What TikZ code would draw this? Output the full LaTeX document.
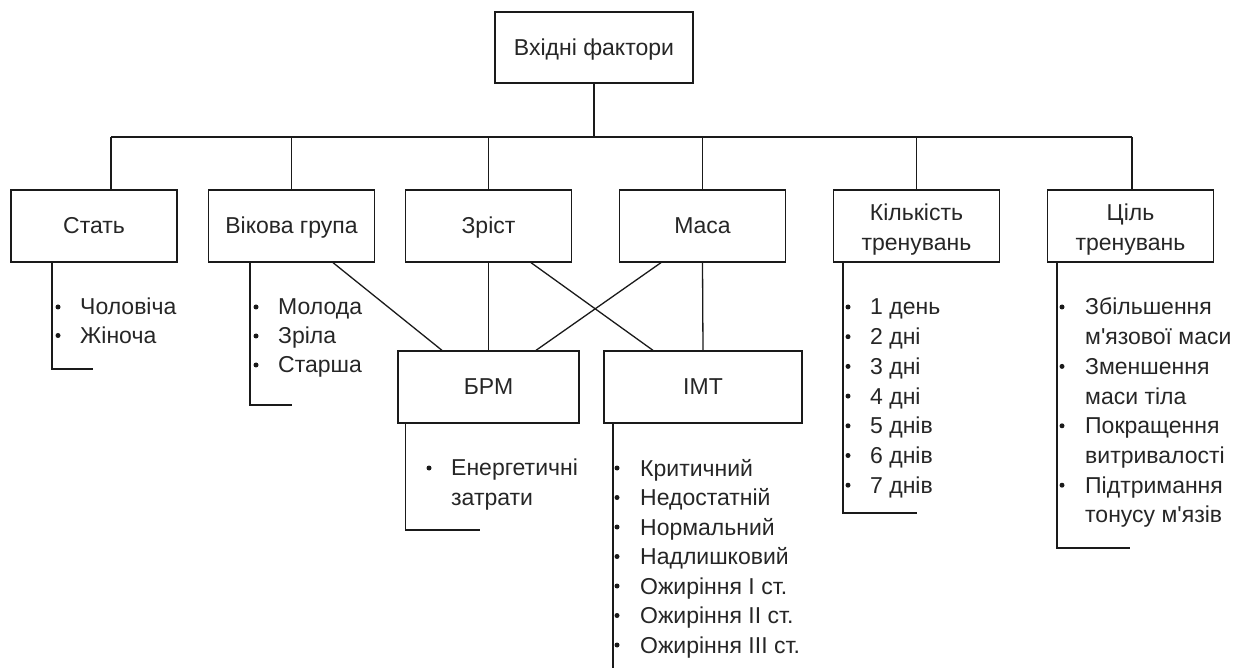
\documentclass[tikz,border=0pt]{standalone}
\usepackage{fontspec}
\setmainfont{Liberation Sans}[Ligatures=TeXOff]
\definecolor{ink}{HTML}{262626}
\definecolor{wire}{HTML}{1A1A1A}
\begin{document}
\begin{tikzpicture}[x=1pt,y=-1pt,
  box/.style={draw=wire, line width=1.3pt, fill=white, minimum width=166pt,
    minimum height=72pt, inner sep=0pt, align=center, text=ink,
    font=\fontsize{23}{30}\selectfont},
  one/.style={text height=16pt, text depth=0pt},
  boxtext/.style={inner sep=0pt, align=center, text=ink,
    font=\fontsize{23}{30}\selectfont},
  link/.style={draw=wire, line width=1.3pt},
  item/.style={anchor=base west, inner sep=0pt, align=left, text=ink,
    font=\fontsize{23}{29.7}\selectfont},
  bul/.style={fill=wire}]
\useasboundingbox (0,0) rectangle (1235,668);

% top node and first level
\node[box, one, minimum width=198pt, minimum height=71pt] (root) at (594,47.5) {Вхідні фактори};
\node[box, one] (stat) at (94,226) {Стать};
\node[box, one] (vik) at (291.5,226) {Вікова група};
\node[box, one] (zrist) at (488.5,226) {Зріст};
\node[box, one] (masa) at (702.5,226) {Маса};
\node[box] (kil) at (916.5,226) {};
\node[boxtext] (kilT) at ([yshift=-4pt]kil.center) {Кількість\\тренувань};
\node[box] (cil) at (1130.5,226) {};
\node[boxtext] (cilT) at ([yshift=-4pt]cil.center) {Ціль\\тренувань};

% derived indicators
\node[box, one, minimum width=181pt] (brm) at (488.5,387) {БРМ};
\node[box, one, minimum width=198pt] (imt) at (703,387) {ІМТ};

% bus
\coordinate (busL) at (111,137);
\coordinate (busR) at (1132,137);
\draw[link] (root.south) -- (root.south |- busL);
\draw[link] (busL) -- (busR);
\draw[link] (busL) -- (busL |- stat.north);
\draw[link] (vik.north) -- (vik.north |- busL);
\draw[link] (zrist.north) -- (zrist.north |- busL);
\draw[link] (masa.north) -- (masa.north |- busL);
\draw[link] (kil.north) -- (kil.north |- busL);
\draw[link] (busR) -- (busR |- cil.north);

% inputs of BRM and IMT
\draw[link] ([xshift=41.5pt]vik.south) -- ([xshift=-46.5pt]brm.north);
\draw[link] (zrist.south) -- (brm.north);
\draw[link] ([xshift=42.5pt]zrist.south) -- ([xshift=-50pt]imt.north);
\draw[link] ([xshift=-41.5pt]masa.south) -- ([xshift=47.5pt]brm.north);
\draw[link] (masa.south) -- (imt.north);

% list brackets
\coordinate (statEnd) at (93,369);
\coordinate (vikEnd) at (292,405);
\coordinate (brmEnd) at (480,530);
\coordinate (imtEnd) at (613,668);
\coordinate (kilEnd) at (917,513);
\coordinate (cilEnd) at (1130,548);
\draw[link] ([xshift=-42pt]stat.south) |- (statEnd);
\draw[link] ([xshift=-41.5pt]vik.south) |- (vikEnd);
\draw[link] ([xshift=8pt]brm.south west) |- (brmEnd);
\draw[link] (imt.south west -| imtEnd) -- (imtEnd);
\draw[link] ([xshift=10pt]kil.south west) |- (kilEnd);
\draw[link] ([xshift=10pt]cil.south west) |- (cilEnd);

% lists (two-line items are placed by the baseline of their last line)
\foreach \t [count=\i] in {Чоловіча, Жіноча} {
  \node[item] (stat\i) at (80,{315+28.5*(\i-1)}) {\t};
  \fill[bul] (58,{307+28.5*(\i-1)}) circle (2.5pt);
}
\foreach \t [count=\i] in {Молода, Зріла, Старша} {
  \node[item] (vik\i) at (278,{315+29*(\i-1)}) {\t};
  \fill[bul] (256,{307+29*(\i-1)}) circle (2.5pt);
}
\node[item] (brm1) at (451,505) {Енергетичні\\затрати};
\fill[bul] (429,468) circle (2.5pt);
\foreach \t [count=\i] in {Критичний, Недостатній, Нормальний, Надлишковий,
    Ожиріння I ст., Ожиріння II ст., Ожиріння III ст.} {
  \node[item] (imt\i) at (640,{476+29.5*(\i-1)}) {\t};
  \fill[bul] (617,{468+29.5*(\i-1)}) circle (2.5pt);
}
\foreach \t [count=\i] in {1 день, 2 дні, 3 дні, 4 дні, 5 днів, 6 днів, 7 днів} {
  \node[item] (kil\i) at (870,{315+29.7*(\i-1)}) {\t};
  \fill[bul] (848,{307+29.7*(\i-1)}) circle (2.5pt);
}
\node[item] (cil1) at (1085,344.7) {Збільшення\\м'язової маси};
\node[item] (cil2) at (1085,404.1) {Зменшення\\маси тіла};
\node[item] (cil3) at (1085,463.5) {Покращення\\витривалості};
\node[item] (cil4) at (1085,522.9) {Підтримання\\тонусу м'язів};
\foreach \k in {0,1,2,3}
  \fill[bul] (1062,{307+59.4*\k}) circle (2.5pt);
\end{tikzpicture}
\end{document}
